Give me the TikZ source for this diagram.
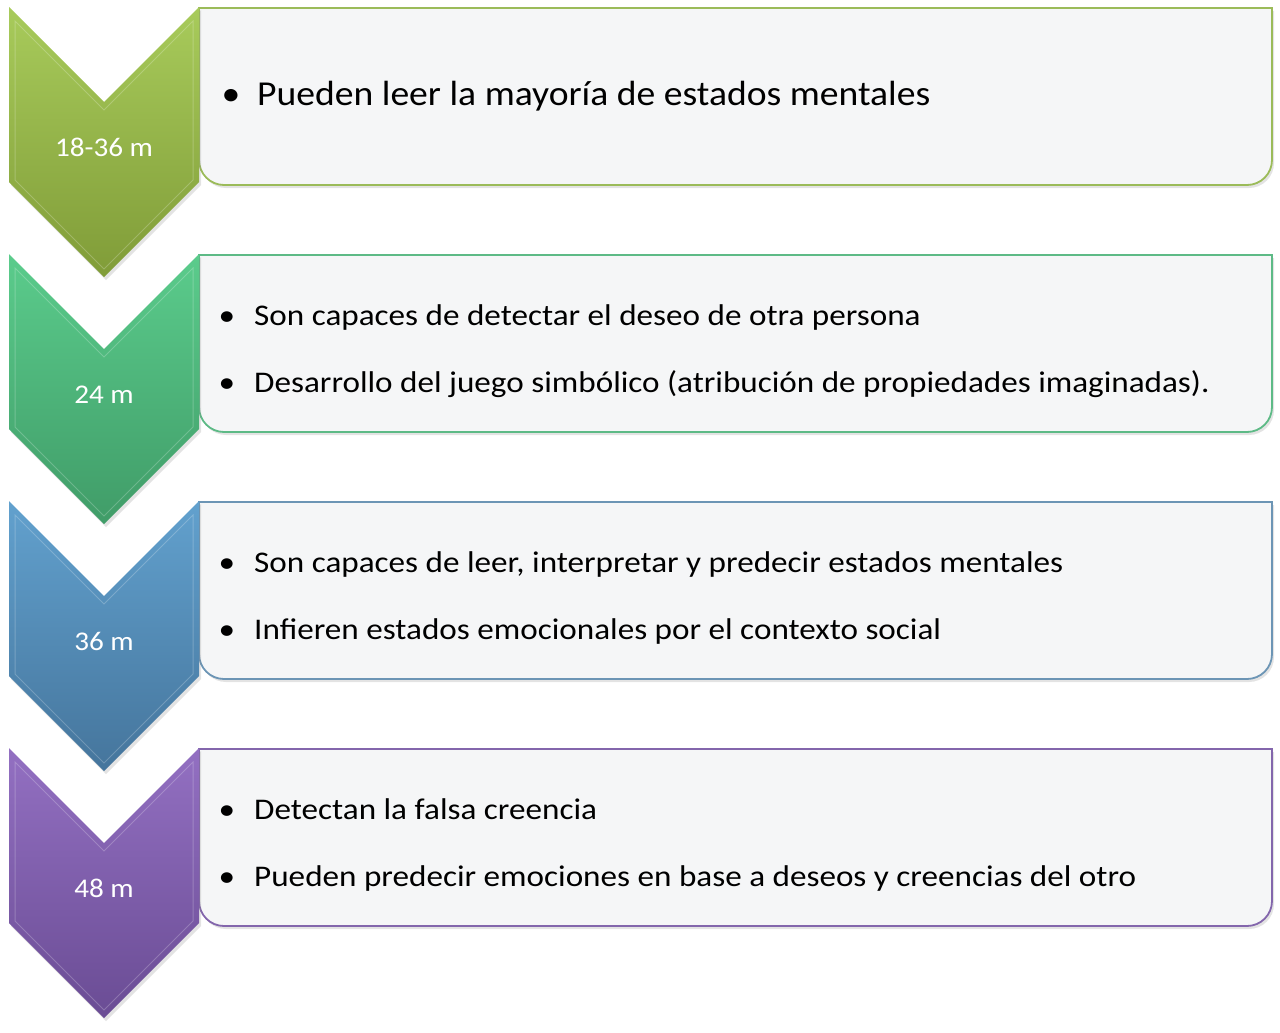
\documentclass[tikz,border=0pt]{standalone}
\usepackage{fontspec}
\setmainfont{Carlito}[FakeStretch=1.105]
\newfontfamily\rowonefont{Carlito}[FakeStretch=1.075]
\newfontfamily\labelfont{Carlito}[FakeStretch=1.08]
\usetikzlibrary{shadows}
\definecolor{boxfill}{HTML}{F5F6F7}
\definecolor{gAtop}{HTML}{A8CB5B}
\definecolor{gAbot}{HTML}{809C38}
\definecolor{gAline}{HTML}{9BBB59}
\definecolor{gBtop}{HTML}{5BCC8C}
\definecolor{gBbot}{HTML}{409C68}
\definecolor{gBline}{HTML}{5DBA86}
\definecolor{gCtop}{HTML}{62A1CE}
\definecolor{gCbot}{HTML}{45759C}
\definecolor{gCline}{HTML}{6C95B5}
\definecolor{gDtop}{HTML}{9370C2}
\definecolor{gDbot}{HTML}{6A4C94}
\definecolor{gDline}{HTML}{8366AC}
\tikzset{
  boxshape/.style={line width=1.8pt, fill=boxfill,
    drop shadow={opacity=0.22, shadow xshift=2pt, shadow yshift=-3pt}},
  chev/.style={drop shadow={opacity=0.22, shadow xshift=2pt, shadow yshift=-3pt}},
  bevel/.style={draw=white, draw opacity=0.22, line width=1pt},
  agelabel/.style={text=white, anchor=base, inner sep=0pt, font=\labelfont\fontsize{27}{32}\selectfont},
  bigitem/.style={anchor=base west, inner sep=0pt, font=\rowonefont\fontsize{35}{42}\selectfont},
  bigbul/.style={anchor=base, inner sep=0pt, font=\rowonefont\fontsize{35}{42}\selectfont},
  item/.style={anchor=base west, inner sep=0pt, font=\fontsize{30}{36}\selectfont},
  bul/.style={anchor=base, inner sep=0pt, font=\fontsize{30}{36}\selectfont}
}
\begin{document}
\begin{tikzpicture}[x=1pt,y=-1pt]
\useasboundingbox (0,0) rectangle (1280,1033);
% ---------- row 1
\path[boxshape, draw=gAline] (199,8) -- (1272,8) [rounded corners=25pt] -- (1272,185) -- (199,185) [sharp corners] -- cycle;
\path[chev, top color=gAtop, bottom color=gAbot] (9,7) -- (104,102) -- (199,7) -- (199,182) -- (104,277) -- (9,182) -- cycle;
\path[bevel] (15,21) -- (104,110) -- (193,21) -- (193,180) -- (104,269) -- (15,180) -- cycle;
\node[agelabel] (l1) at (104,156) {18-36 m};
\node[bigbul] (b11) at (231,105) {•};
\node[bigitem] (t11) at (257,105) {Pueden leer la mayoría de estados mentales};
% ---------- row 2
\path[boxshape, draw=gBline] (199,255) -- (1272,255) [rounded corners=25pt] -- (1272,432) -- (199,432) [sharp corners] -- cycle;
\path[chev, top color=gBtop, bottom color=gBbot] (9,254) -- (104,349) -- (199,254) -- (199,429) -- (104,524) -- (9,429) -- cycle;
\path[bevel] (15,268) -- (104,357) -- (193,268) -- (193,427) -- (104,516) -- (15,427) -- cycle;
\node[agelabel] (l2) at (104,403) {24 m};
\node[bul] (b21) at (227,325) {•};
\node[item] (t21) at (254,325) {Son capaces de detectar el deseo de otra persona};
\node[bul] (b22) at (227,392) {•};
\node[item] (t22) at (254,392) {Desarrollo del juego simbólico (atribución de propiedades imaginadas).};
% ---------- row 3
\path[boxshape, draw=gCline] (199,502) -- (1272,502) [rounded corners=25pt] -- (1272,679) -- (199,679) [sharp corners] -- cycle;
\path[chev, top color=gCtop, bottom color=gCbot] (9,501) -- (104,596) -- (199,501) -- (199,676) -- (104,771) -- (9,676) -- cycle;
\path[bevel] (15,515) -- (104,604) -- (193,515) -- (193,674) -- (104,763) -- (15,674) -- cycle;
\node[agelabel] (l3) at (104,650) {36 m};
\node[bul] (b31) at (227,572) {•};
\node[item] (t31) at (254,572) {Son capaces de leer, interpretar y predecir estados mentales};
\node[bul] (b32) at (227,639) {•};
\node[item] (t32) at (254,639) {Infieren estados emocionales por el contexto social};
% ---------- row 4
\path[boxshape, draw=gDline] (199,749) -- (1272,749) [rounded corners=25pt] -- (1272,926) -- (199,926) [sharp corners] -- cycle;
\path[chev, top color=gDtop, bottom color=gDbot] (9,748) -- (104,843) -- (199,748) -- (199,923) -- (104,1018) -- (9,923) -- cycle;
\path[bevel] (15,762) -- (104,851) -- (193,762) -- (193,921) -- (104,1010) -- (15,921) -- cycle;
\node[agelabel] (l4) at (104,897) {48 m};
\node[bul] (b41) at (227,819) {•};
\node[item] (t41) at (254,819) {Detectan la falsa creencia};
\node[bul] (b42) at (227,886) {•};
\node[item] (t42) at (254,886) {Pueden predecir emociones en base a deseos y creencias del otro};
\end{tikzpicture}
\end{document}
